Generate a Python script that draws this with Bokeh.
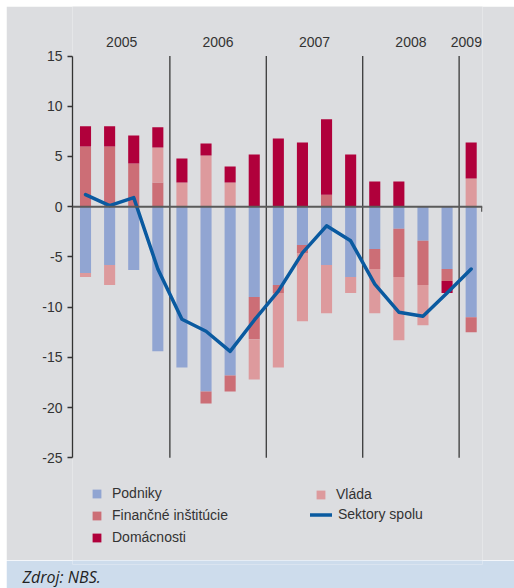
from bokeh.plotting import figure
from bokeh.models import Range1d, Legend, LegendItem, FixedTicker, Span, PrintfTickFormatter, Spacer, Title
from bokeh.layouts import column, row
from bokeh.embed import file_html
from bokeh.resources import INLINE
from bokeh.core.properties import value

# ---- data (2005Q1 .. 2009Q1) ----
years = ["2005", "2006", "2007", "2008", "2009"]
quarters_per_year = [4, 4, 4, 4, 1]
podniky = [-6.6, -5.8, -6.3, -14.4, -16.0, -18.4, -16.8, -9.0, -7.8, -3.8, -5.8, -7.0, -4.2, -2.2, -3.4, -6.2, -11.0]
financne = [6.0, 6.0, 4.3, 2.4, 0.0, -1.2, -1.6, -4.2, -0.8, -0.8, 1.2, 0.0, -2.0, -4.8, -4.4, -1.2, -1.5]
vlada = [-0.4, -2.0, 0.0, 3.5, 2.4, 5.1, 2.4, -4.0, -7.4, -6.8, -4.8, -1.6, -4.4, -6.3, -4.0, 0.0, 2.8]
domacnosti = [2.0, 2.0, 2.8, 2.0, 2.4, 1.2, 1.6, 5.2, 6.8, 6.4, 7.5, 5.2, 2.5, 2.5, 0.0, -1.2, 3.6]
spolu = [1.2, 0.1, 0.9, -6.2, -11.2, -12.4, -14.4, -11.3, -8.4, -4.6, -1.9, -3.4, -7.7, -10.5, -10.9, -8.6, -6.2]
y_ticks = [-25, -20, -15, -10, -5, 0, 5, 10, 15]
source_text = "Zdroj: NBS."

labels = ["Podniky", "Finančné inštitúcie", "Vláda", "Domácnosti"]
series = [podniky, financne, vlada, domacnosti]
colors = ["#91a5d2", "#cc6e76", "#dd9a9d", "#b0003b"]
LINE_COLOR = "#0a5aa0"
BG = "#dcdde0"
TXT = "#333333"
FONT = "Liberation Sans"

n = len(spolu)
xs = list(range(n))

W = 508
LEFT = 66
RIGHT = 32

# thin blue stripe at the top
top = figure(width=W, height=6, x_axis_type=None, y_axis_type=None, toolbar_location=None,
             output_backend="svg", min_border=0)
top.background_fill_color = "#0060ae"
top.border_fill_color = "#0060ae"
top.outline_line_color = None
top.grid.visible = False

p = figure(width=W, height=554, x_range=Range1d(-0.54, 16.47), y_range=Range1d(-35.22, 19.93),
           x_axis_type=None, toolbar_location=None, output_backend="svg",
           min_border_left=LEFT, min_border_right=RIGHT, min_border_top=0, min_border_bottom=0)
p.background_fill_color = BG
p.border_fill_color = BG
p.outline_line_color = None
p.grid.visible = False

# y axis
ax = p.yaxis[0]
ax.ticker = FixedTicker(ticks=y_ticks)
ax.formatter = PrintfTickFormatter(format="%d")
ax.bounds = (min(y_ticks), max(y_ticks))
ax.axis_line_color = TXT
ax.axis_line_width = 1.3
ax.major_tick_line_color = TXT
ax.major_tick_line_width = 1.3
ax.major_tick_out = 5
ax.major_tick_in = 0
ax.minor_tick_line_color = None
ax.major_label_text_font = FONT
ax.major_label_text_font_size = "14px"
ax.major_label_text_color = TXT
ax.major_label_standoff = 5

# stacked bars: positives and negatives stacked separately
pos_base = [0.0] * n
neg_base = [0.0] * n
renderers = {}
for lab, s, c in zip(labels, series, colors):
    bottoms, tops = [], []
    for i, v in enumerate(s):
        if v >= 0:
            bottoms.append(pos_base[i]); tops.append(pos_base[i] + v); pos_base[i] += v
        else:
            tops.append(neg_base[i]); bottoms.append(neg_base[i] + v); neg_base[i] += v
    renderers[lab] = p.vbar(x=xs, bottom=bottoms, top=tops, width=0.46, fill_color=c, line_color=None)

# year separators and labels
bounds_x = []
acc = 0
centers = []
for q in quarters_per_year:
    centers.append(acc + (q - 1) / 2)
    acc += q
    bounds_x.append(acc - 0.5)
bounds_x = bounds_x[:-1]
p.segment(x0=bounds_x, x1=bounds_x, y0=[min(y_ticks)] * len(bounds_x), y1=[max(y_ticks)] * len(bounds_x),
          line_color="#3a3a3a", line_width=1.3)
centers[-1] -= 0.2
p.text(x=centers, y=[16.35] * len(centers), text=years, text_align="center", text_baseline="middle",
       text_font=value(FONT), text_font_size="14px", text_color=TXT)

# zero line
p.add_layout(Span(location=0, dimension="width", line_color="#5a5a5a", line_width=2))
xe = p.x_range.end - 0.03
p.segment(x0=[xe], x1=[xe], y0=[0], y1=[-0.5], line_color="#5a5a5a", line_width=1.5)

# total line
line_r = p.line(xs, spolu, line_color=LINE_COLOR, line_width=3.5, line_join="round", line_cap="round")

def make_legend(items, x, y, gw, standoff):
    lg = Legend(items=items, location=(x, y), orientation="vertical",
                glyph_width=gw, glyph_height=11, label_height=14, spacing=6,
                label_standoff=standoff, padding=0, margin=0,
                background_fill_alpha=0, border_line_color=None,
                label_text_font=FONT, label_text_font_size="14px", label_text_color=TXT,
                label_text_baseline="middle")
    p.add_layout(lg, "center")

make_legend([LegendItem(label=labels[0], renderers=[renderers[labels[0]]]),
             LegendItem(label=labels[1], renderers=[renderers[labels[1]]]),
             LegendItem(label=labels[3], renderers=[renderers[labels[3]]])], 19, 15, 11, 10)
make_legend([LegendItem(label=labels[2], renderers=[renderers[labels[2]]])], 243, 58, 11, 10)
make_legend([LegendItem(label="Sektory spolu", renderers=[line_r])], 238, 38, 22, 6)

# source band: frame matches the main frame; the source note is a title in its lower panel
src = figure(width=W, height=28, x_range=Range1d(0, 1), y_range=Range1d(0, 1),
             x_axis_type=None, y_axis_type=None, toolbar_location=None, output_backend="svg",
             min_border_left=LEFT, min_border_right=RIGHT, min_border_top=0, min_border_bottom=0)
src.background_fill_color = "#cddcec"
src.border_fill_color = "#cddcec"
src.outline_line_color = None
src.grid.visible = False
src.add_layout(Title(text=source_text, align="left", offset=-50, standoff=0, vertical_align="middle",
                     text_font="Open Sans", text_font_style="italic", text_font_size="16px",
                     text_color="#222222"), "below")

layout = row(Spacer(width=6, height=588), column(top, p, src, spacing=0), spacing=0)
open("out.html", "w").write(file_html(layout, INLINE))
